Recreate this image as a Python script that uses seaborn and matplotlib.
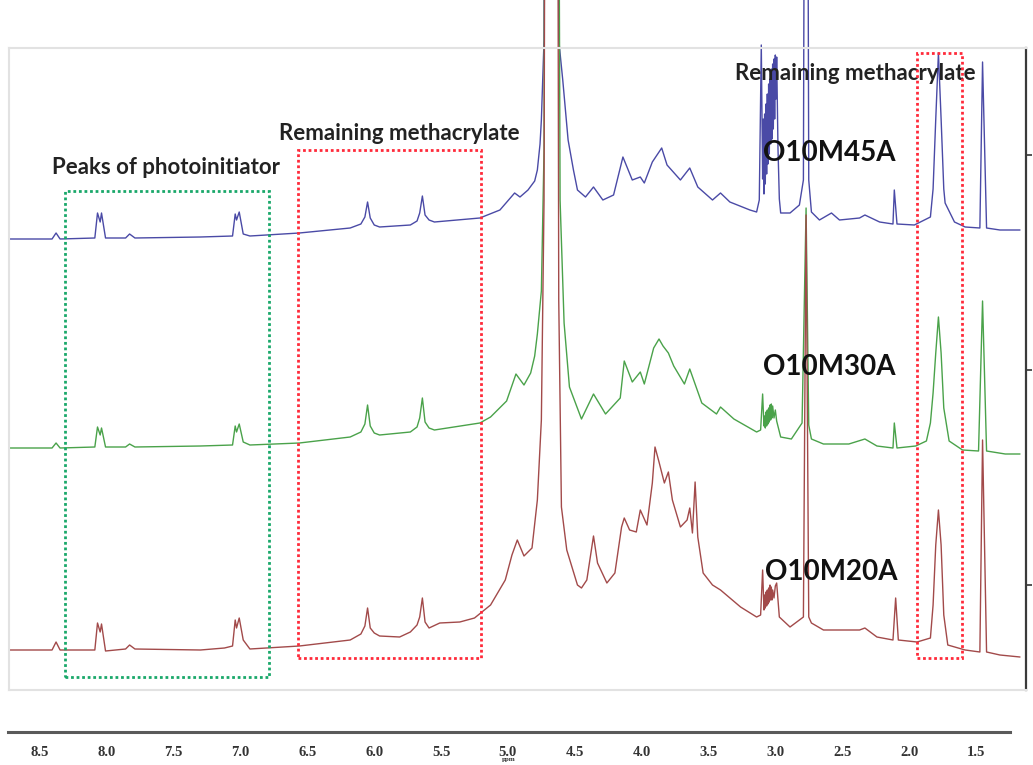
import numpy as np
import pandas as pd
import matplotlib
matplotlib.use("Agg")
import matplotlib.pyplot as plt
from matplotlib.patches import Rectangle
from matplotlib.ticker import MultipleLocator, FormatStrFormatter
import seaborn as sns

# ---------------- data ----------------
samples = ["O10M45A", "O10M30A", "O10M20A"]

# (chemical shift ppm, relative intensity a.u.)
o10m45a = [(8.73,0),(8.41,0),(8.38,6),(8.35,0),(8.09,1),(8.07,26),(8.05,17),(8.04,26),(8.01,1),
           (7.86,1),(7.83,5),(7.79,1),(7.30,2),(7.06,3),(7.04,25),(7.03,19),(7.01,27),(6.98,5),
           (6.93,3),(6.56,6),(6.18,11),(6.10,15),(6.07,22),(6.05,37),(6.03,21),(6.00,14),(5.96,12),
           (5.73,14),(5.68,18),(5.66,26),(5.64,43),(5.62,24),(5.59,19),(5.55,17),(5.21,21),(5.06,29),
           (4.95,46),(4.91,42),(4.85,49),(4.80,58),(4.78,69),(4.76,95),
           (4.75,119),(4.73,199),(4.72,1000),(4.63,1000),(4.62,199),(4.59,159),(4.55,99),(4.51,69),
           (4.48,49),(4.42,42),(4.36,52),(4.29,39),(4.21,44),(4.14,82),(4.07,59),(4.01,62),(3.98,56),
           (3.92,77),(3.85,91),(3.81,74),(3.71,59),(3.64,71),(3.58,52),(3.47,39),(3.41,46),(3.34,37),
           (3.19,29),(3.14,27),(3.12,39),(3.105,194),(3.095,60),(3.09,120),(3.085,45),(3.08,125),
           (3.075,55),(3.07,135),(3.065,65),(3.06,145),(3.055,75),(3.05,155),(3.045,85),(3.04,160),
           (3.035,95),(3.03,170),(3.025,100),(3.02,175),(3.015,110),(3.01,180),(3.005,120),
           (3.00,184),(2.995,140),(2.99,182),(2.98,90),(2.97,40),(2.96,26),(2.89,26),(2.82,34),
           (2.79,59),(2.77,1000),(2.75,59),(2.73,27),(2.67,19),(2.58,26),(2.52,19),(2.37,21),
           (2.33,24),(2.22,17),(2.12,15),(2.11,49),(2.09,15),(1.96,14),(1.84,22),(1.82,50),
           (1.80,120),(1.78,186),(1.76,120),(1.74,50),(1.73,36),(1.66,17),(1.58,12),(1.47,11),
           (1.45,177),(1.42,11),(1.32,9),(1.17,9)]

o10m30a = [(8.73,0),(8.41,0),(8.38,5),(8.35,0),(8.09,1),(8.07,21),(8.05,13),(8.04,20),(8.01,1),
           (7.86,1),(7.83,4),(7.79,1),(7.30,2),(7.06,3),(7.04,22),(7.03,16),(7.01,24),(6.98,6),
           (6.93,3),(6.56,5),(6.18,11),(6.10,16),(6.07,24),(6.05,43),(6.03,22),(6.00,15),(5.96,13),
           (5.73,16),(5.68,21),(5.66,30),(5.64,50),(5.62,26),(5.59,20),(5.55,18),(5.21,25),(5.13,31),
           (5.01,47),(4.94,74),(4.88,63),(4.83,75),(4.80,92),
           (4.78,114),(4.75,157),(4.73,298),(4.72,1000),(4.63,1000),(4.61,248),(4.58,125),(4.54,61),
           (4.45,29),(4.36,54),(4.27,34),(4.16,50),(4.13,87),(4.07,66),(4.01,76),(3.98,64),(3.91,100),
           (3.87,109),(3.84,102),(3.80,95),(3.76,82),(3.68,64),(3.64,79),(3.55,45),(3.44,34),
           (3.41,41),(3.31,29),(3.14,16),(3.11,18),(3.095,54),(3.085,22),(3.08,32),(3.075,20),
           (3.07,36),(3.065,22),(3.06,38),(3.055,24),(3.05,40),(3.045,26),(3.04,43),(3.035,28),
           (3.03,44),(3.025,30),(3.02,42),(3.01,30),(3.00,38),(2.99,27),(2.96,11),(2.88,9),
           (2.80,25),(2.77,240),(2.75,23),(2.73,9),
           (2.64,4),(2.45,4),(2.33,9),(2.24,2),(2.12,0),(2.11,25),(2.09,0),(1.95,2),(1.87,7),
           (1.84,25),(1.82,55),(1.80,95),(1.78,131),(1.76,95),(1.74,40),(1.70,7),(1.60,-2),
           (1.48,-3),(1.45,147),(1.42,-3),(1.28,-6),(1.17,-6)]

o10m20a = [(8.73,0),(8.41,0),(8.38,8),(8.35,0),(8.09,0),(8.07,27),(8.05,18),(8.04,26),(8.01,-1),
           (7.86,1),(7.83,5),(7.79,1),(7.30,0),(7.12,2),(7.06,4),(7.04,30),(7.03,22),(7.01,32),
           (6.98,10),(6.93,1),(6.56,4),(6.18,10),(6.10,16),(6.07,24),(6.05,42),(6.03,22),(6.00,17),
           (5.96,14),(5.81,13),(5.73,18),(5.68,25),(5.66,33),(5.64,52),(5.62,28),(5.59,22),(5.51,27),
           (5.36,28),(5.25,32),(5.13,45),(5.02,70),
           (4.97,95),(4.93,110),(4.88,94),(4.82,102),(4.78,150),(4.75,230),(4.73,450),(4.72,1000),
           (4.63,1000),(4.62,350),(4.60,143),(4.56,100),(4.48,65),(4.45,62),(4.41,70),(4.36,114),
           (4.33,87),(4.26,67),(4.20,77),(4.15,123),(4.13,132),(4.09,120),(4.04,118),(4.01,140),
           (3.96,125),(3.92,167),(3.90,203),(3.87,188),(3.83,167),(3.80,178),(3.77,150),(3.71,123),
           (3.66,130),(3.64,142),(3.62,117),(3.60,168),(3.58,113),(3.54,77),(3.47,65),(3.41,60),
           (3.26,43),(3.14,33),(3.11,35),(3.095,80),(3.085,40),(3.08,55),(3.075,42),(3.07,58),
           (3.065,44),(3.06,60),(3.055,46),(3.05,62),(3.045,48),(3.04,65),(3.035,50),(3.03,63),
           (3.025,50),(3.02,60),(3.01,52),(3.00,64),(2.99,67),(2.97,33),(2.89,23),(2.79,33),
           (2.77,435),(2.75,33),(2.73,27),(2.64,20),
           (2.37,20),(2.33,22),(2.24,13),(2.12,10),(2.10,52),(2.08,10),(1.94,8),(1.84,12),
           (1.82,45),(1.80,105),(1.78,140),(1.76,105),(1.74,35),(1.71,5),(1.58,0),(1.47,-2),
           (1.45,210),(1.42,-2),(1.32,-5),(1.17,-7)]

axis_ticks_major = [8.5, 8.0, 7.5, 7.0, 6.5, 6.0, 5.5, 5.0, 4.5, 4.0, 3.5, 3.0, 2.5, 2.0, 1.5]

# ---------------- layout / style ----------------
TRACE_OFFSETS = {"O10M45A": 451, "O10M30A": 242, "O10M20A": 40}
PALETTE = {"O10M45A": "#4a4aa6", "O10M30A": "#4aa24a", "O10M20A": "#a24a4a"}

rows = []
for name, pts in zip(samples, [o10m45a, o10m30a, o10m20a]):
    for ppm, inten in pts:
        rows.append({"sample": name, "ppm": ppm, "signal": inten + TRACE_OFFSETS[name]})
df = pd.DataFrame(rows)

sns.set_theme(style="white")
plt.rcParams["font.family"] = ["Lato", "DejaVu Sans"]

W, H = 1033, 765
fig = plt.figure(figsize=(W / 100, H / 100), dpi=100)

# spectra panel: px x 9..1026, y 48..690
ax = fig.add_axes([9 / W, (H - 690) / H, 1017 / W, 642 / H])
sns.lineplot(data=df, x="ppm", y="signal", hue="sample", hue_order=samples,
             palette=PALETTE, sort=False, estimator=None, legend=False,
             linewidth=1.0, ax=ax)
for ln in ax.lines:
    ln.set_clip_on(False)
ax.set_xlim(8.732, 1.125)
ax.set_ylim(0, 642)
ax.set_xlabel("")
ax.set_ylabel("")
ax.set_xticks([])
ax.set_yticks([105, 320, 535])
ax.yaxis.tick_right()
ax.tick_params(axis="y", which="major", direction="out", length=4, width=1.2,
               colors="#333333", labelright=False, labelleft=False, right=True, left=False)
for side in ["left", "bottom", "top"]:
    ax.spines[side].set_color("#e2e2e2")
    ax.spines[side].set_linewidth(1.5)
ax.spines["right"].set_color("#3a3a3a")
ax.spines["right"].set_linewidth(1.6)
ax.set_facecolor("none")

# sample labels
lab_kw = dict(fontsize=20, fontweight="bold", color="#111111", ha="center", va="center")
ax.text(2.60, 537, "O10M45A", **lab_kw)
ax.text(2.60, 323, "O10M30A", **lab_kw)
ax.text(2.58, 118, "O10M20A", **lab_kw)

ann_kw = dict(fontsize=16, fontweight="bold", color="#222222", ha="center", va="center")
ax.text(7.56, 522, "Peaks of photoinitiator", **ann_kw)
ax.text(5.81, 557, "Remaining methacrylate", **ann_kw)
ax.text(2.40, 617, "Remaining methacrylate", **ann_kw)

# dotted annotation boxes (ppm range, intensity range)
boxes = [((8.31, 6.79), (13, 499), "#1aa86a"),
         ((6.57, 5.20), (32, 540), "#ff2a3a"),
         ((1.94, 1.60), (32, 637), "#ff2a3a")]
for (x0, x1), (y0, y1), col in boxes:
    ax.add_patch(Rectangle((x0, y0), x1 - x0, y1 - y0, fill=False, edgecolor=col,
                           linewidth=2.0, linestyle=(0, (1, 1)), clip_on=False, zorder=5))

# bottom ppm axis: px x 8..1010 at y 732
ax2 = fig.add_axes([8 / W, (H - 732) / H, 1002 / W, 0.0005])
ax2.set_xlim(8.739, 1.245)
ax2.set_ylim(0, 1)
ax2.set_yticks([])
ax2.set_facecolor("none")
for side in ["left", "right", "top"]:
    ax2.spines[side].set_visible(False)
ax2.spines["bottom"].set_color("#5a5a5a")
ax2.spines["bottom"].set_linewidth(2.2)
ax2.set_xticks(axis_ticks_major)
ax2.xaxis.set_minor_locator(MultipleLocator(0.25))
ax2.xaxis.set_major_formatter(FormatStrFormatter("%.1f"))
ax2.tick_params(axis="x", which="major", direction="inout", length=6, width=1.2,
                colors="#444444", pad=7, labelsize=10.5)
ax2.tick_params(axis="x", which="minor", direction="inout", length=3, width=1.2,
                colors="#555555")
for lbl in ax2.get_xticklabels():
    lbl.set_fontfamily(["Liberation Serif", "DejaVu Serif"])
    lbl.set_fontweight("bold")
    lbl.set_color("#333333")
ax2.set_xlabel("ppm", fontsize=5, fontweight="bold", labelpad=-1,
               fontfamily=["Liberation Serif", "DejaVu Serif"], color="#333333")

fig.savefig("out.png", dpi=100, facecolor="white")
